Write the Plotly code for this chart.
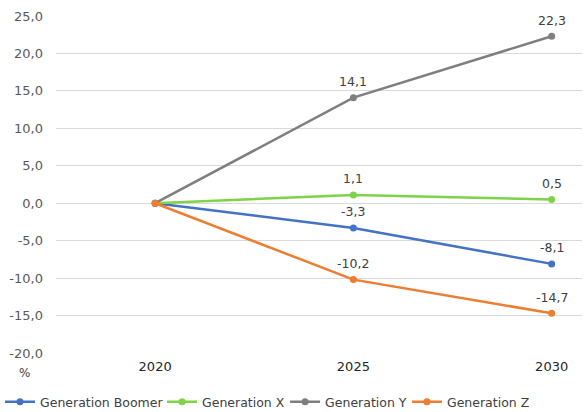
import plotly.graph_objects as go

years = ["2020", "2025", "2030"]
boomer = [0.0, -3.3, -8.1]
gen_x = [0.0, 1.1, 0.5]
gen_y = [0.0, 14.1, 22.3]
gen_z = [0.0, -10.2, -14.7]
y_ticks = [-20, -15, -10, -5, 0, 5, 10, 15, 20, 25]

series = [
    ("Generation Boomer", boomer, "#4472C4"),
    ("Generation X", gen_x, "#7ED348"),
    ("Generation Y", gen_y, "#7F7F7F"),
    ("Generation Z", gen_z, "#ED7D31"),
]
legend_x = [0.0, 0.2765, 0.4865, 0.6945]

FONT = "DejaVu Sans"
xs = list(range(len(years)))


def fmt(v):
    return f"{v:.1f}".replace(".", ",")


fig = go.Figure()
legend_ids = ["legend", "legend2", "legend3", "legend4"]
for (name, vals, col), lid in zip(series, legend_ids):
    fig.add_trace(go.Scatter(
        x=xs, y=vals, name=name, mode="lines+markers",
        line=dict(color=col, width=2.5),
        marker=dict(color=col, size=7),
        legend=lid,
    ))
    for i in range(1, len(vals)):
        fig.add_annotation(
            x=xs[i], y=vals[i], text=fmt(vals[i]),
            showarrow=False, yshift=16,
            font=dict(family=FONT, size=12.5, color="#404040"),
        )

fig.add_annotation(
    xref="paper", yref="paper", x=-0.059, y=-0.06, xanchor="center", yanchor="middle",
    text="%", showarrow=False,
    font=dict(family=FONT, size=12, color="#404040"),
)

legend_common = dict(orientation="h", xref="container", xanchor="left",
                     yref="container", y=0.024, yanchor="middle",
                     font=dict(family=FONT, size=12.5, color="#404040"),
                     itemwidth=30, bgcolor="rgba(0,0,0,0)")

fig.update_layout(
    width=586, height=412,
    margin=dict(l=56, r=4, t=16, b=59, autoexpand=False),
    plot_bgcolor="white", paper_bgcolor="white",
    font=dict(family=FONT, size=12.5, color="#595959"),
    showlegend=True,
    legend=dict(x=legend_x[0], **legend_common),
    legend2=dict(x=legend_x[1], **legend_common),
    legend3=dict(x=legend_x[2], **legend_common),
    legend4=dict(x=legend_x[3], **legend_common),
    xaxis=dict(
        range=[-0.5, 2.153], tickmode="array", tickvals=xs, ticktext=years,
        showgrid=False, zeroline=False, showline=False, ticks="",
        tickfont=dict(family=FONT, size=13, color="#262626"), ticklabelstandoff=4,
        automargin=False,
    ),
    yaxis=dict(
        range=[-20, 25], tickmode="array", tickvals=y_ticks,
        ticktext=[fmt(v) for v in y_ticks], showgrid=True,
        gridcolor="#D9D9D9", gridwidth=1, zeroline=False, showline=False,
        tickfont=dict(family=FONT, size=13, color="#595959"), ticks="",
        ticklabelstandoff=12, automargin=False,
    ),
)

fig.write_html(
    "out.html",
    config={"displayModeBar": False},
    post_script="document.body.style.margin='0';document.documentElement.style.overflow='hidden';",
)
